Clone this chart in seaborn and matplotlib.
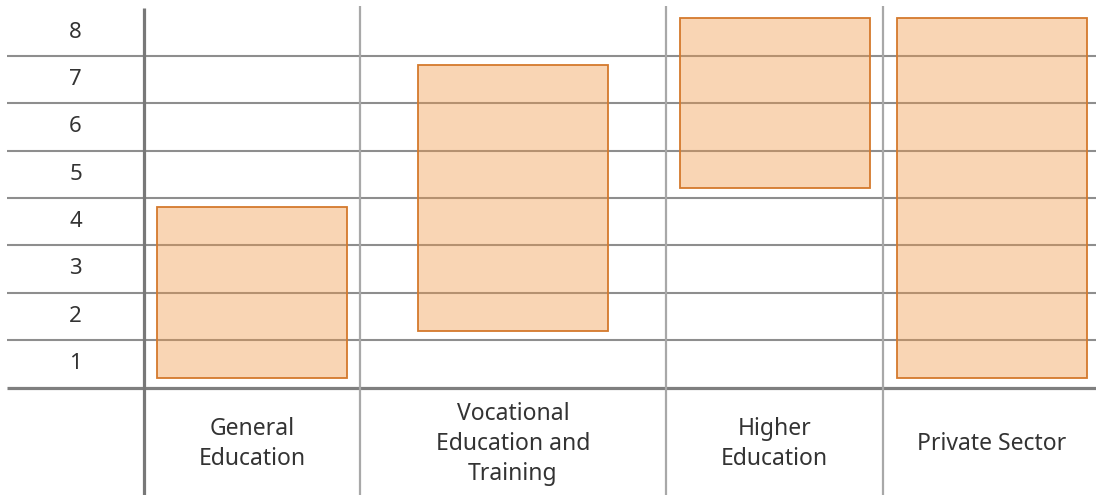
import matplotlib
matplotlib.use("Agg")
import matplotlib.pyplot as plt
import seaborn as sns

# ---- data ----
categories = ["General\nEducation", "Vocational\nEducation and\nTraining",
              "Higher\nEducation", "Private Sector"]
level_start = [1, 2, 5, 1]
level_end = [4, 7, 8, 8]
level_labels = ["1", "2", "3", "4", "5", "6", "7", "8"]

# ---- style ----
sns.set_theme(style="white")
plt.rcParams['font.family'] = ['Noto Sans', 'DejaVu Sans']

W, H = 1096, 495
fig = plt.figure(figsize=(W / 100, H / 100), dpi=100)
ax = fig.add_axes([0, 0, 1, 1])

col_edges = [144, 360, 666, 883, W]   # layout of the table columns (pixel units)
row_px = 47.4
base_px = 387.5
y_top = 0.5 + base_px / row_px
y_bot = 0.5 - (H - base_px) / row_px
ax.set_xlim(0, W)
ax.set_ylim(y_bot, y_top)
ax.axis('off')

n_levels = len(level_labels)
pad = 0.3
bar_w = 190
text_col = '#333333'

# horizontal grid lines
for k in range(n_levels):
    v = k + 0.5
    if k == 0:
        ax.hlines(v, 7, W, color='#7f7f7f', lw=2.3, zorder=2)
    else:
        ax.hlines(v, 7, W, color='#8e8e8e', lw=1.5, zorder=2)

# vertical lines
ax.vlines(col_edges[0], y_bot, n_levels + 0.51, color='#787878', lw=2.3, zorder=2)
for x in col_edges[1:-1]:
    ax.vlines(x, y_bot, n_levels + 0.55, color='#a8a8a8', lw=1.6, zorder=2)

# bars
centers = [(col_edges[i] + col_edges[i + 1]) / 2 for i in range(len(categories))]
centers[-1] += 2.5
heights = [e - s + 2 * pad for s, e in zip(level_start, level_end)]
bottoms = [s - pad for s in level_start]
ax.bar(centers, heights, bottom=bottoms, width=bar_w,
       color=(0.94, 0.59, 0.27, 0.40), edgecolor='#D4792C', linewidth=1.3, zorder=3)

# level labels
for i, lab in enumerate(level_labels):
    ax.text((7 + col_edges[0]) / 2, i + 1, lab, ha='center', va='center',
            fontsize=16, color=text_col)

# category labels
for c, lab in zip(centers, categories):
    ax.text(c, -0.69, lab, ha='center', va='center', multialignment='center',
            fontsize=16.5, color=text_col, linespacing=1.35)

fig.savefig("out.png", dpi=100)
